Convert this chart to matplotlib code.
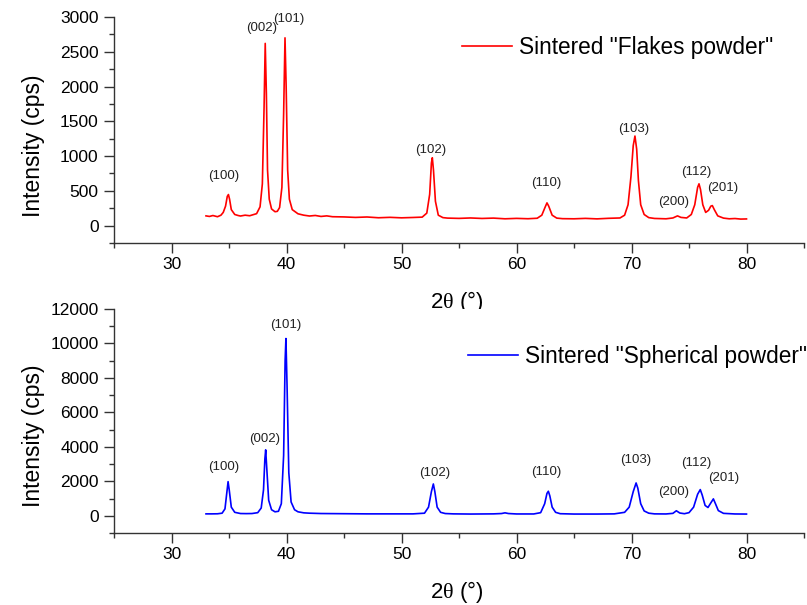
import matplotlib
matplotlib.use("Agg")
import matplotlib.pyplot as plt

plt.rcParams['font.family'] = ['Liberation Sans', 'DejaVu Sans']
plt.rcParams['mathtext.fontset'] = 'custom'
plt.rcParams['mathtext.rm'] = 'Liberation Serif'
plt.rcParams['mathtext.it'] = 'Liberation Serif'

# ---- Data ----
flakes_2theta = [33.0, 33.3, 33.6, 34.0, 34.3, 34.5, 34.7, 34.85, 34.95, 35.05, 35.2, 35.5, 35.8,
                 36.0, 36.4, 36.8, 37.0, 37.4, 37.7, 37.9, 38.05, 38.15, 38.25, 38.35, 38.5, 38.7,
                 39.0, 39.2, 39.4, 39.6, 39.75, 39.87, 39.97, 40.1, 40.25, 40.5, 41.0, 41.5, 42.0,
                 42.5, 43.0, 43.5, 44.0, 45.0, 46.0, 47.0, 48.0, 49.0, 50.0, 51.0, 51.8, 52.2,
                 52.45, 52.6, 52.68, 52.78, 52.95, 53.2, 53.6, 54.0, 55.0, 56.0, 57.0, 58.0, 59.0,
                 60.0, 61.0, 61.8, 62.2, 62.5, 62.65, 62.8, 63.1, 63.5, 64.0, 65.0, 66.0, 67.0,
                 68.0, 69.0, 69.4, 69.7, 69.95, 70.15, 70.3, 70.45, 70.6, 70.8, 71.1, 71.5, 72.0,
                 73.0, 73.6, 74.0, 74.3, 74.8, 75.2, 75.5, 75.75, 75.87, 76.0, 76.2, 76.45, 76.7,
                 76.9, 77.03, 77.2, 77.5, 78.0, 78.5, 79.0, 79.5, 80.0]
flakes_int = [140, 132, 145, 128, 150, 190, 280, 420, 447, 380, 230, 160, 145,
              138, 150, 142, 152, 172, 270, 600, 1700, 2620, 1900, 800, 380, 240,
              200, 205, 260, 550, 1600, 2700, 2000, 800, 380, 230, 170, 150, 138,
              146, 132, 140, 128, 125, 118, 124, 113, 119, 112, 117, 122, 180,
              450, 900, 976, 800, 350, 150, 115, 108, 104, 110, 103, 108, 98,
              104, 99, 106, 150, 270, 327, 280, 150, 108, 100, 98, 104, 97,
              105, 110, 150, 300, 700, 1150, 1288, 1100, 650, 300, 160, 115, 103,
              98, 110, 140, 118, 110, 160, 300, 550, 601, 520, 300, 190, 220,
              280, 288, 230, 140, 108, 98, 102, 94, 96]

spher_2theta = [33.0, 33.5, 34.0, 34.4, 34.65, 34.82, 34.92, 35.02, 35.2, 35.5, 36.0, 36.5,
                37.0, 37.5, 37.8, 38.0, 38.12, 38.19, 38.28, 38.45, 38.7, 39.0, 39.3, 39.55,
                39.75, 39.88, 39.95, 40.05, 40.2, 40.4, 40.7, 41.0, 41.5, 42.0, 43.0, 45.0,
                47.0, 49.0, 51.0, 52.0, 52.35, 52.6, 52.77, 52.9, 53.1, 53.4, 53.8, 54.5,
                56.0, 58.0, 58.7, 59.0, 59.3, 60.0, 61.5, 62.1, 62.45, 62.65, 62.77, 62.9,
                63.1, 63.4, 63.8, 65.0, 67.0, 68.5, 69.4, 69.8, 70.15, 70.4, 70.55, 70.8,
                71.1, 71.5, 72.0, 73.0, 73.6, 73.9, 74.2, 74.6, 75.0, 75.4, 75.75, 75.98,
                76.15, 76.4, 76.65, 76.9, 77.12, 77.3, 77.55, 78.0, 79.0, 80.0]
spher_int = [110, 110, 115, 150, 400, 1400, 1980, 1500, 500, 200, 130, 125,
             130, 180, 450, 1500, 3300, 3826, 2800, 900, 350, 230, 260, 700,
             3500, 9000, 10288, 7500, 2500, 800, 350, 230, 170, 150, 130, 120,
             110, 110, 110, 150, 500, 1400, 1846, 1400, 500, 200, 130, 110,
             100, 110, 130, 170, 130, 105, 105, 180, 700, 1300, 1423, 1150,
             500, 200, 120, 100, 100, 110, 200, 500, 1400, 1904, 1600, 700,
             280, 150, 110, 105, 140, 290, 160, 120, 180, 500, 1250, 1519,
             1200, 600, 480, 750, 980, 700, 300, 140, 105, 100]

peak_labels = ['(100)', '(002)', '(101)', '(102)', '(110)', '(103)', '(200)', '(112)', '(201)']
flakes_label_x = [34.5, 37.87, 40.2, 52.57, 62.6, 70.2, 73.7, 75.67, 77.96]
flakes_label_y = [707, 2841, 2970, 1081, 620, 1384, 346, 769, 548]
spher_label_x = [34.5, 38.1, 39.9, 52.85, 62.6, 70.36, 73.7, 75.67, 77.98]
spher_label_y = [2846, 4480, 11077, 2480, 2520, 3230, 1365, 3058, 2192]

x_ticks = [30, 40, 50, 60, 70, 80]
flakes_yticks = [0, 500, 1000, 1500, 2000, 2500, 3000]
spher_yticks = [0, 2000, 4000, 6000, 8000, 10000, 12000]

# ---- Figure ----
W, H = 807, 605
fig = plt.figure(figsize=(W / 100, H / 100), dpi=100)

def px_axes(left, top, right, bottom):
    return fig.add_axes([left / W, 1 - bottom / H, (right - left) / W, (bottom - top) / H])

ax1 = px_axes(114, 17, 804, 243)
ax2 = px_axes(114, 309, 804, 533)

spine_col = '#333333'

def style(ax, yticks, ylim, yminor):
    for s in ['top', 'right']:
        ax.spines[s].set_visible(False)
    for s in ['left', 'bottom']:
        ax.spines[s].set_color(spine_col)
        ax.spines[s].set_linewidth(1.0)
    ax.set_xlim(25, 85)
    ax.set_ylim(*ylim)
    ax.set_xticks(x_ticks)
    ax.set_xticks([25, 35, 45, 55, 65, 75, 85], minor=True)
    ax.set_yticks(yticks)
    ax.set_yticks(yminor, minor=True)
    ax.tick_params(which='major', length=7, width=1.0, color=spine_col, labelsize=12.5,
                   direction='out')
    ax.tick_params(which='minor', length=3.5, width=1.0, color=spine_col, direction='out')
    ax.tick_params(axis='x', which='major', pad=3)
    ax.tick_params(axis='y', which='major', pad=4)
    ax.set_xlabel(r'2$\theta$ (°)', fontsize=16)
    ax.set_ylabel('Intensity (cps)', fontsize=16.5)
    ax.xaxis.set_label_coords(0.497, -0.205)

style(ax1, flakes_yticks, (-250, 3000), [v - 250 for v in flakes_yticks])
style(ax2, spher_yticks, (-1000, 12000), [v - 1000 for v in spher_yticks])
ax1.yaxis.set_label_coords(-0.10, 0.43)
ax2.yaxis.set_label_coords(-0.10, 0.433)

ax1.plot(flakes_2theta, flakes_int, color='#ff0000', lw=1.2, label='Sintered "Flakes powder"')
ax2.plot(spher_2theta, spher_int, color='#0000ff', lw=1.2, label='Sintered "Spherical powder"')

for lab, x, y in zip(peak_labels, flakes_label_x, flakes_label_y):
    ax1.text(x, y, lab, ha='center', va='center', fontsize=9.5, color='#222222')
for lab, x, y in zip(peak_labels, spher_label_x, spher_label_y):
    ax2.text(x, y, lab, ha='center', va='center', fontsize=9.5, color='#222222')

ax1.legend(loc='center left', bbox_to_anchor=(0.504, 0.867), frameon=False, fontsize=16.3,
           handlelength=2.2, handletextpad=0.33, borderpad=0, borderaxespad=0)
ax2.legend(loc='center left', bbox_to_anchor=(0.513, 0.790), frameon=False, fontsize=16.3,
           handlelength=2.2, handletextpad=0.33, borderpad=0, borderaxespad=0)

fig.savefig('out.png', dpi=100)
